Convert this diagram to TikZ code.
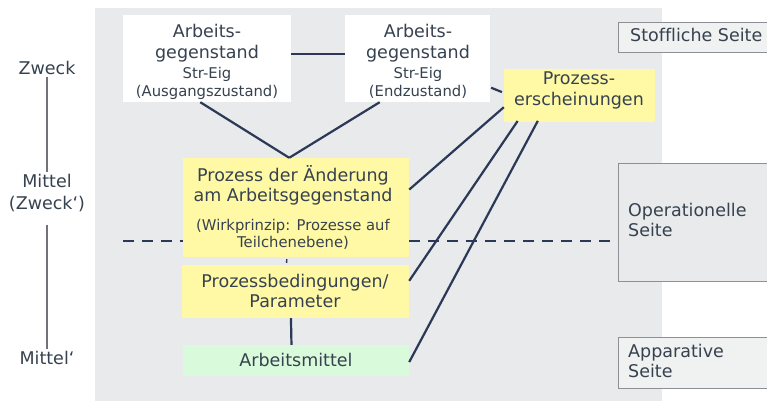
\documentclass[tikz,border=0pt]{standalone}
\usepackage{fontspec}
\setmainfont{DejaVu Sans}[Ligatures={TeX,NoCommon}]
\usetikzlibrary{calc}
\definecolor{bggray}{HTML}{E8EAEB}
\definecolor{boxyellow}{HTML}{FFF9A6}
\definecolor{boxgreen}{HTML}{DAFADC}
\definecolor{txtcol}{HTML}{36424F}
\definecolor{linecol}{HTML}{2B3856}
\definecolor{framecol}{HTML}{8C9096}
\definecolor{sidefill}{HTML}{F0F1F1}
\newcommand{\bigf}{\fontsize{17.5}{20}\selectfont}
\newcommand{\smallf}{\fontsize{14.8}{17}\selectfont}
\tikzset{
  box/.style={rectangle, inner sep=0pt, draw=none},
  wbox/.style={box, fill=white},
  ybox/.style={box, fill=boxyellow},
  gbox/.style={box, fill=boxgreen},
  sidebox/.style={rectangle, inner sep=0pt, draw=framecol, line width=0.9pt},
  bigt/.style={inner sep=0pt, text=txtcol, font=\bigf, text height=0.75em, text depth=0.25em, yshift=-2pt},
  smallt/.style={inner sep=0pt, text=txtcol, font=\smallf, text height=0.75em, text depth=0.25em, yshift=-2pt},
  conn/.style={draw=linecol, line width=2.2pt},
  vline/.style={draw=framecol!80!black, line width=1.2pt},
  dashline/.style={draw=linecol, line width=2.8pt, dash pattern=on 10.5pt off 8.5pt}
}
\begin{document}
\begin{tikzpicture}[x=1pt,y=-1pt]
\useasboundingbox (0,0) rectangle (767,401);
\fill[white] (0,0) rectangle (767,401);
\fill[bggray] (95,8) rectangle (662,401);

% right side boxes
\node[sidebox, fill=sidefill, minimum width=152, minimum height=30] (st) at (694,37) {};
\node[sidebox, fill=bggray, minimum width=152, minimum height=118] (op) at (694,222) {};
\node[sidebox, fill=sidefill, minimum width=152, minimum height=51] (ap) at (694,362.5) {};
\node[bigt, anchor=west] (stt) at (630,37) {Stoffliche Seite};
\node[bigt, anchor=west] (opt1) at (628,212) {Operationelle};
\node[bigt, anchor=west] (opt2) at (628,232) {Seite};
\node[bigt, anchor=west] (apt1) at (628,353) {Apparative};
\node[bigt, anchor=west] (apt2) at (628,373) {Seite};

% dashed line
\coordinate (dl) at (123,241);
\node[ybox, minimum width=226, minimum height=99] (pa) at (296,207.5) {};
\draw[dashline] (dl) -- (dl -| pa.west);
\draw[dashline, shorten >=5pt] (dl -| pa.east) -- (dl -| op.west);

% main boxes
\node[wbox, minimum width=168, minimum height=87] (b1) at (207,58.5) {};
\node[wbox, minimum width=145, minimum height=87] (b2) at (417.5,58.5) {};
\node[ybox, minimum width=151, minimum height=53] (pe) at (579.5,95.5) {};
\node[ybox, minimum width=226, minimum height=99] (pa) at (296,207.5) {};
\node[ybox, minimum width=227, minimum height=53] (pb) at (295.5,291.5) {};
\node[gbox, minimum width=226, minimum height=31] (am) at (296,360.5) {};

% texts in boxes
\node[bigt] (b1t1) at (207,33) {Arbeits-};
\node[bigt] (b1t2) at (207,54) {gegenstand};
\node[smallt] (b1t3) at (207,74) {Str-Eig};
\node[smallt] (b1t4) at (207,92) {(Ausgangszustand)};
\node[bigt] (b2t1) at (418,33) {Arbeits-};
\node[bigt] (b2t2) at (418,54) {gegenstand};
\node[smallt] (b2t3) at (418,74) {Str-Eig};
\node[smallt] (b2t4) at (418,92) {(Endzustand)};
\node[bigt] (pet1) at (579,80) {Prozess-};
\node[bigt] (pet2) at (579,101) {erscheinungen};
\node[bigt] (pat1) at (293,177) {Prozess der Änderung};
\node[bigt] (pat2) at (293,197) {am Arbeitsgegenstand};
\node[smallt] (pat3) at (293,226) {(Wirkprinzip: Prozesse auf};
\node[smallt] (pat4) at (293,243) {Teilchenebene)};
\node[bigt] (pbt1) at (295,283) {Prozessbedingungen/};
\node[bigt] (pbt2) at (295,303) {Parameter};
\node[bigt] (amt) at (296,362) {Arbeitsmittel};

% left labels
\node[bigt] (zw) at (47,70) {Zweck};
\node[bigt] (mi1) at (47,183) {Mittel};
\node[bigt] (mi2) at (47,205) {(Zweck`)};
\node[bigt] (ml) at (47,360) {Mittel`};
\draw[vline, shorten <=-0.5pt, shorten >=7.5pt] (zw.south) -- (mi1.north);
\draw[vline, shorten <=12.5pt, shorten >=7.5pt] (mi2.south) -- (ml.north);

% connectors
\draw[conn] ($(b1.north east)!0.45!(b1.south east)$) -- ($(b2.north west)!0.45!(b2.south west)$);
\draw[conn] ($(b1.south west)!0.46!(b1.south east)$) -- ($(pa.north west)!0.47!(pa.north east)$);
\draw[conn] ($(b2.south west)!0.24!(b2.south east)$) -- ($(pa.north west)!0.47!(pa.north east)$);
\draw[conn, shorten <=1pt, shorten >=2pt] ($(b2.north east)!0.83!(b2.south east)$) -- ($(pe.north west)!0.45!(pe.south west)$);
\draw[conn] ($(pa.north east)!0.32!(pa.south east)$) -- ($(pe.north west)!0.72!(pe.south west)$);
\draw[conn, shorten >=-1.5pt] ($(pb.north east)!0.30!(pb.south east)$) -- ($(pe.south west)!0.086!(pe.south east)$);
\draw[conn, shorten >=-1.5pt] ($(am.north east)!0.55!(am.south east)$) -- ($(pe.south west)!0.22!(pe.south east)$);
\draw[conn, line width=1.4pt, shorten <=2pt, shorten >=2pt] ($(pa.south west)!0.46!(pa.south east)$) -- ($(pb.north west)!0.46!(pb.north east)$);
\draw[conn] ($(pb.south west)!0.48!(pb.south east)$) -- ($(am.north west)!0.48!(am.north east)$);
\end{tikzpicture}
\end{document}
